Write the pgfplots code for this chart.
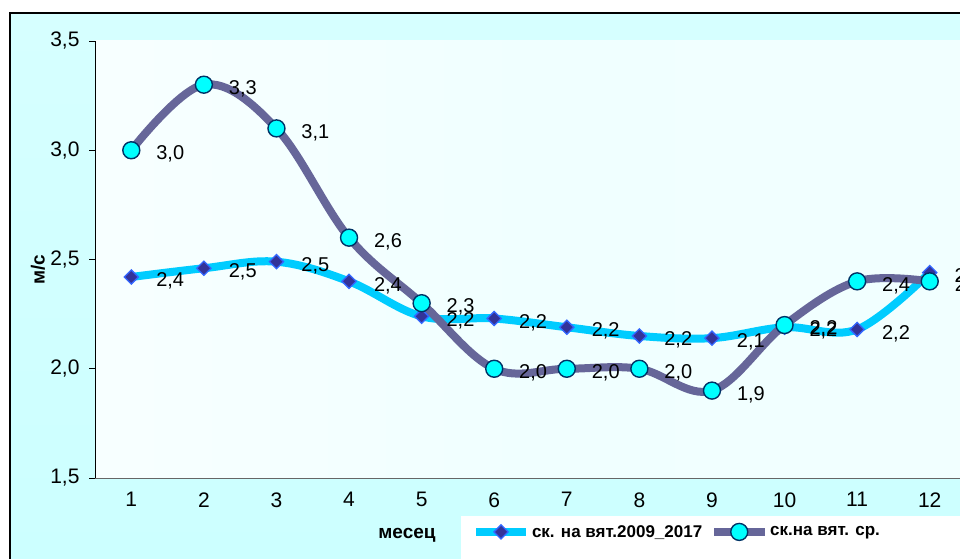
\documentclass[border=0pt]{standalone}
\usepackage{pgfplots}
\pgfplotsset{compat=1.18}
\usepackage{fontspec}
\setmainfont{Liberation Sans}
\definecolor{outerbg}{HTML}{CCFFFF}
\definecolor{plotbg}{HTML}{F0FFFF}
\definecolor{darkline}{HTML}{666699}
\definecolor{lightline}{HTML}{00CCFF}
\definecolor{diamfill}{HTML}{333399}
\definecolor{diamedge}{HTML}{3366FF}
\definecolor{circedge}{HTML}{003366}
\definecolor{circfill}{HTML}{00FFFF}
\begin{document}
\begin{tikzpicture}[x=1pt,y=1pt]
\useasboundingbox (0,0) rectangle (960,558);
\clip (0,0) rectangle (960,558);
% outer chart background and frame
\shade[top color=outerbg!80!white, bottom color=outerbg] (10,0) rectangle (1000,545);
\draw[black, line width=1.2pt] (10,-20) -- (10,545) -- (1000,545);
% plot area
\shade[left color=plotbg!50!white, right color=plotbg!90!white, middle color=plotbg] (95,80) rectangle (966,517);
% legend box
\fill[white] (461,-10) rectangle (1000,42);
\begin{axis}[
  at={(95pt,80pt)}, anchor=south west,
  scale only axis, width=871pt, height=437pt,
  xmin=0.5, xmax=12.5, ymin=1.5, ymax=3.5,
  axis x line*=bottom, axis y line*=left,
  x axis line style={draw=gray!80!black, line width=0.9pt, -},
  y axis line style={draw=black, line width=0.9pt, -},
  xtick={1,...,12},
  extra x ticks={0.5,1.5,...,12.5}, extra x tick labels={},
  extra x tick style={major tick length=6pt, tick style={draw=gray!80!black, line width=0.9pt}},
  major x tick style={draw=none},
  ytick={1.5,2.0,2.5,3.0,3.5},
  major tick length=6pt,
  tick align=outside,
  y tick style={draw=black, line width=0.9pt},
  /pgf/number format/fixed, /pgf/number format/fixed zerofill,
  /pgf/number format/precision=1, /pgf/number format/use comma,
  /pgf/number format/assume math mode=true,
  tick label style={font=\fontsize{21}{23}\selectfont},
  xticklabel style={yshift=-5pt, /pgf/number format/precision=0, /pgf/number format/fixed zerofill=false},
  yticklabel style={xshift=-6pt},
  axis line style={-},
  clip=false,
  nodes near coords,
  point meta=y,
  every node near coord/.append style={anchor=west, xshift=21pt, yshift=-4pt, font=\fontsize{20}{22}\selectfont, text=black},
  legend columns=2,
  legend style={at={(0.42,-0.087)}, anchor=north west, draw=none, fill=white,
    font=\fontsize{17}{19}\selectfont\bfseries, inner xsep=11pt, inner ysep=7pt,
    /tikz/every even column/.append style={column sep=6pt}},
  legend cell align=left,
  legend image code/.code={\draw[#1, mark repeat=2, mark phase=2] plot coordinates {(0pt,0pt) (25pt,0pt) (50pt,0pt)};},
]
\addplot[lightline, line width=8pt, smooth, tension=0.6,
  mark=square*, mark size=5pt,
  mark options={rotate=45, fill=diamfill, draw=diamedge, line width=1.3pt}]
coordinates {(1,2.42) (2,2.46) (3,2.49) (4,2.40) (5,2.24) (6,2.23) (7,2.19) (8,2.15) (9,2.14) (10,2.19) (11,2.18) (12,2.44)};
\addlegendentry{ск. на вят.2009\_2017}
\addplot[darkline, line width=8pt, smooth, tension=0.6,
  mark=*, mark size=8.5pt,
  mark options={fill=circfill, draw=circedge, line width=1.4pt}]
coordinates {(1,3.0) (2,3.3) (3,3.1) (4,2.6) (5,2.3) (6,2.0) (7,2.0) (8,2.0) (9,1.9) (10,2.2) (11,2.4) (12,2.4)};
\addlegendentry{ск.на вят. ср.}
\end{axis}
% axis labels
\node[font=\fontsize{19}{21}\selectfont\bfseries, rotate=90] at (38,288) {м/с};
\node[font=\fontsize{19}{21}\selectfont\bfseries] at (407,23) {месец};
\end{tikzpicture}
\end{document}
